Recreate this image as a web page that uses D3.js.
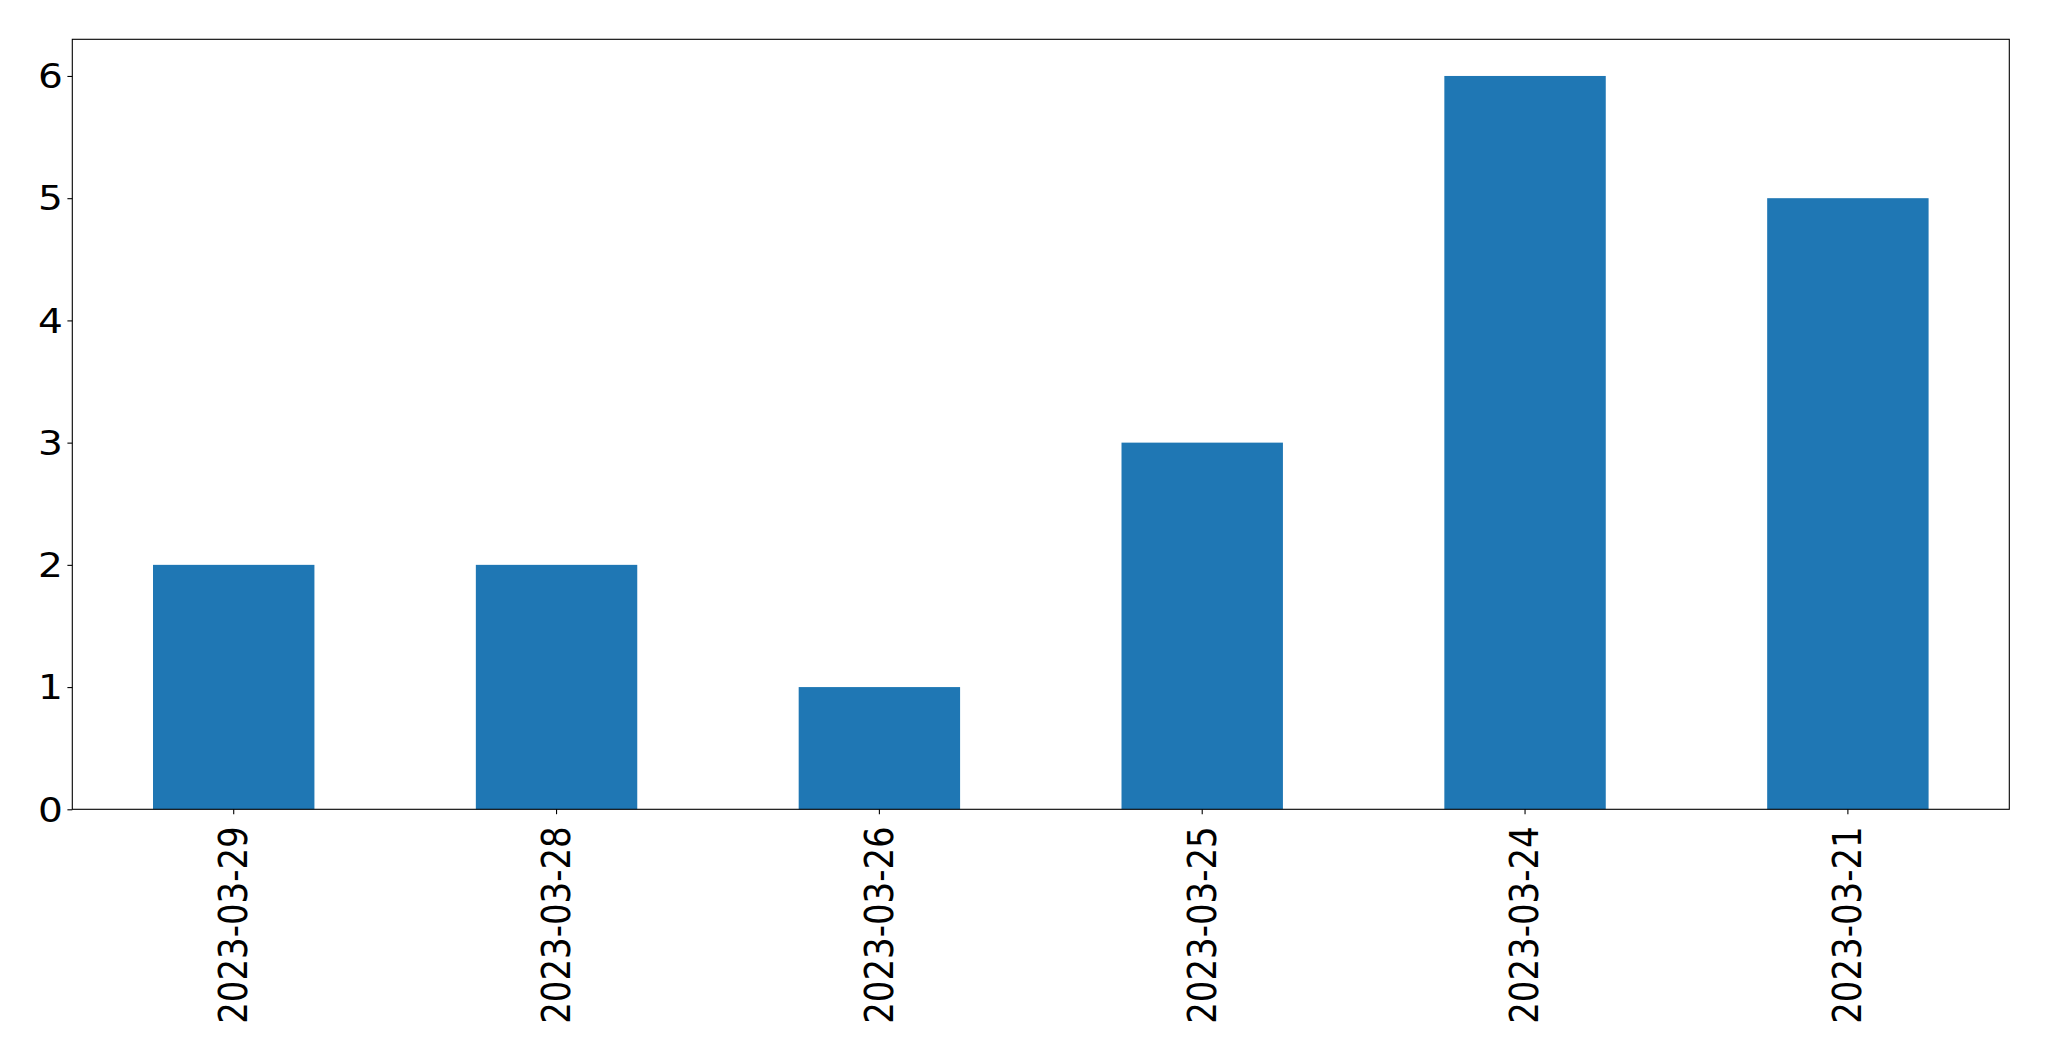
<!DOCTYPE html>
<html>
<head>
<meta charset="utf-8">
<script src="https://cdn.jsdelivr.net/npm/d3@7"></script>
<style>
  html, body { margin: 0; padding: 0; background: #fff; }
  svg { display: block; }
  text { font-family: "DejaVu Sans", sans-serif; fill: #000; }
</style>
</head>
<body>
<svg id="chart" width="2049" height="1061"></svg>
<script>
const categories = ["2023-03-29", "2023-03-28", "2023-03-26", "2023-03-25", "2023-03-24", "2023-03-21"];
const values = [2, 2, 1, 3, 6, 5];
const yTicks = [0, 1, 2, 3, 4, 5, 6];

const plotLeft = 72.3, plotRight = 2009.3, plotTop = 39.3, plotBottom = 809.3;
const fontSize = 34;
const stretchX = 1.15;
const tickLen = 4.9;

const svg = d3.select("#chart");

const x = d3.scaleBand()
  .domain(categories)
  .range([plotLeft, plotRight])
  .paddingInner(0.5)
  .paddingOuter(0.25);

const y = d3.scaleLinear()
  .domain([0, 6.3])
  .range([plotBottom, plotTop]);

// bars
svg.append("g")
  .selectAll("rect")
  .data(values)
  .join("rect")
  .attr("x", (d, i) => x(categories[i]))
  .attr("width", x.bandwidth())
  .attr("y", d => y(d))
  .attr("height", d => y(0) - y(d))
  .attr("fill", "#1f77b4");

// y axis ticks
const yAxis = svg.append("g")
  .attr("transform", `translate(${plotLeft},0)`)
  .call(d3.axisLeft(y).tickValues(yTicks).tickFormat("").tickSize(tickLen));
yAxis.select(".domain").remove();
yAxis.selectAll(".tick line").attr("stroke", "#000").attr("stroke-width", 1.1);

// y tick labels
svg.append("g")
  .selectAll("text")
  .data(yTicks)
  .join("text")
  .attr("transform", d => `translate(${plotLeft - 9.5},${y(d)}) scale(${stretchX},1)`)
  .attr("text-anchor", "end")
  .attr("dy", "0.36em")
  .style("font-size", fontSize + "px")
  .text(d => d3.format("d")(d));

// x axis ticks
const xAxis = svg.append("g")
  .attr("transform", `translate(0,${plotBottom})`)
  .call(d3.axisBottom(x).tickSize(tickLen).tickFormat(""));
xAxis.select(".domain").remove();
xAxis.selectAll(".tick line").attr("stroke", "#000").attr("stroke-width", 1.1);

// x tick labels (rotated)
svg.append("g")
  .selectAll("text")
  .data(categories)
  .join("text")
  .attr("transform", d => `translate(${x(d) + x.bandwidth() / 2 - 0.8},${plotBottom + 17}) scale(${stretchX},1) rotate(-90)`)
  .attr("text-anchor", "end")
  .attr("dy", "0.36em")
  .style("font-size", fontSize + "px")
  .text(d => d);

// frame
svg.append("rect")
  .attr("x", plotLeft)
  .attr("y", plotTop)
  .attr("width", plotRight - plotLeft)
  .attr("height", plotBottom - plotTop)
  .attr("fill", "none")
  .attr("stroke", "#000")
  .attr("stroke-width", 1.1);
</script>
</body>
</html>
